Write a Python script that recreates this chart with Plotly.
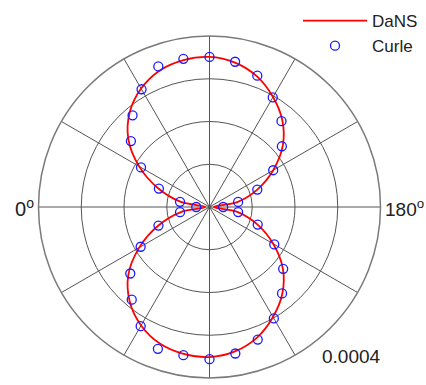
import plotly.graph_objects as go

# Directivity angle in degrees: 0 at the left, 180 at the right, 90 at the top
angles = [0, 10, 20, 30, 40, 50, 60, 70, 80, 90, 100, 110, 120, 130, 140, 150, 160, 170,
          180, 190, 200, 210, 220, 230, 240, 250, 260, 270, 280, 290, 300, 310, 320, 330,
          340, 350, 360]

# DaNS solution (acoustic pressure amplitude)
dans = [0.000010, 0.000068, 0.000128, 0.000190, 0.000248, 0.000290, 0.000320, 0.000340,
        0.000349, 0.000351, 0.000343, 0.000325, 0.000297, 0.000265, 0.000224, 0.000172,
        0.000119, 0.000066, 0.000010, 0.000066, 0.000119, 0.000172, 0.000224, 0.000265,
        0.000297, 0.000325, 0.000343, 0.000351, 0.000349, 0.000340, 0.000320, 0.000290,
        0.000248, 0.000190, 0.000128, 0.000068, 0.000010]

# Curle's analogy prediction
curle_angles = angles[:-1]
curle = [0.000031, 0.000070, 0.000126, 0.000185, 0.000240, 0.000280, 0.000318, 0.000350,
         0.000352, 0.000351, 0.000345, 0.000327, 0.000296, 0.000262, 0.000221, 0.000172,
         0.000119, 0.000068, 0.000032, 0.000068, 0.000120, 0.000175, 0.000225, 0.000264,
         0.000301, 0.000330, 0.000348, 0.000356, 0.000352, 0.000353, 0.000322, 0.000283,
         0.000242, 0.000186, 0.000127, 0.000070]

radial_ticks = [0.0001, 0.0002, 0.0003, 0.0004]
r_max = 0.0004

W, H = 426, 385
FONT = "Arial, Liberation Sans, sans-serif"

fig = go.Figure()
fig.add_trace(go.Scatterpolar(
    r=dans, theta=angles, mode="lines", name="DaNS",
    line=dict(color="#ff0000", width=1.8, shape="spline", smoothing=1.0),
))
fig.add_trace(go.Scatterpolar(
    r=curle, theta=curle_angles, mode="markers", name="Curle",
    marker=dict(symbol="circle-open", size=9, color="#1a1aff", line=dict(width=1.3)),
))

# polar area: circle of radius 171 px centred at (209.5, 207)
cx, cy, rad = 209.5, 207.0, 171.0
fig.update_layout(
    width=W, height=H,
    margin=dict(l=0, r=0, t=0, b=0),
    paper_bgcolor="white",
    font=dict(family=FONT, size=18, color="#222"),
    polar=dict(
        domain=dict(x=[(cx - rad) / W, (cx + rad) / W],
                    y=[1 - (cy + rad) / H, 1 - (cy - rad) / H]),
        bgcolor="white",
        radialaxis=dict(range=[0, r_max], tickvals=radial_ticks, showticklabels=False,
                        ticks="", showline=False, gridcolor="#555555", gridwidth=1,
                        angle=0),
        angularaxis=dict(rotation=180, direction="clockwise", dtick=30,
                         showticklabels=False, ticks="", gridcolor="#555555",
                         gridwidth=1, showline=True, linecolor="#7a7a7a", linewidth=1.5),
    ),
    showlegend=True,
    legend=dict(x=298 / W, y=1 - 3 / H, xanchor="left", yanchor="top",
                bgcolor="rgba(0,0,0,0)", itemwidth=64,
                font=dict(family=FONT, size=17, color="#222"), tracegroupgap=0),
    annotations=[
        dict(text="0<sup>o</sup>", x=13 / W, y=1 - 208 / H, xref="paper", yref="paper",
             xanchor="left", yanchor="middle", showarrow=False,
             font=dict(family=FONT, size=20, color="#222")),
        dict(text="180<sup>o</sup>", x=383 / W, y=1 - 208 / H, xref="paper", yref="paper",
             xanchor="left", yanchor="middle", showarrow=False,
             font=dict(family=FONT, size=19, color="#222")),
        dict(text="0.0004", x=320 / W, y=1 - 356 / H, xref="paper", yref="paper",
             xanchor="left", yanchor="middle", showarrow=False,
             font=dict(family=FONT, size=19, color="#222")),
    ],
)

fig.write_html("out.html")
